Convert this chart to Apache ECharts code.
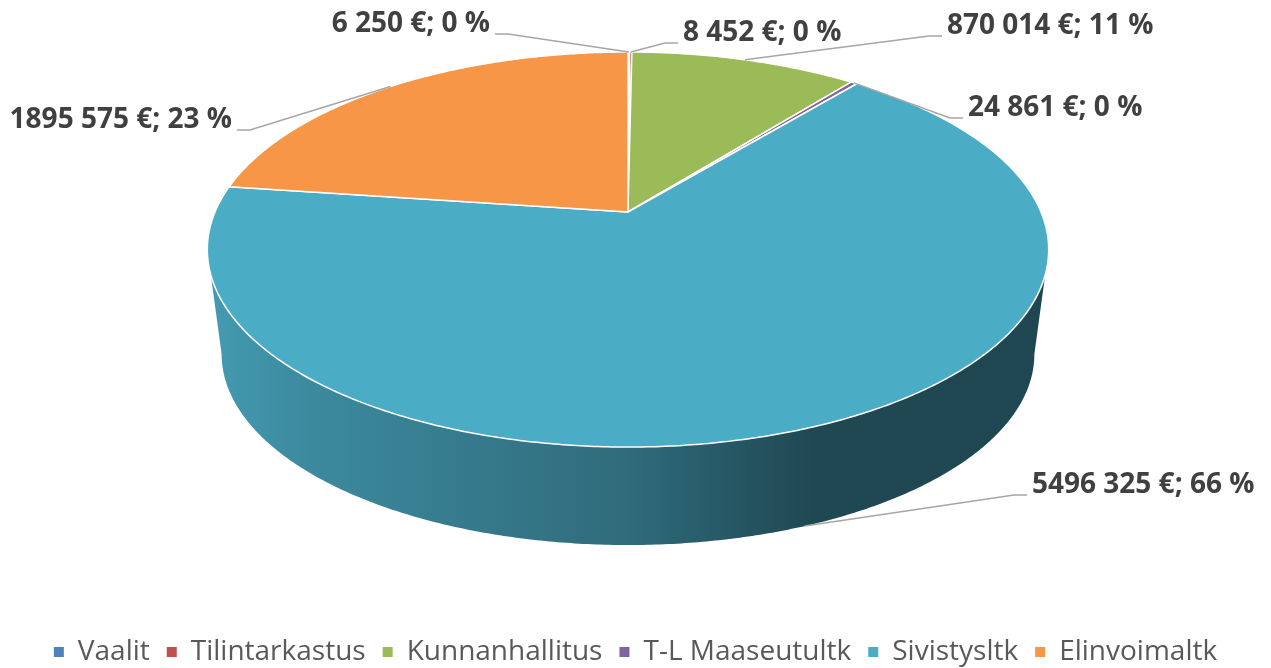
<!DOCTYPE html>
<html>
<head>
<meta charset="utf-8">
<script src="https://cdn.jsdelivr.net/npm/echarts@6/dist/echarts.min.js"></script>
<style>
html, body { margin: 0; padding: 0; background: #fff; }
#main { width: 1271px; height: 668px; }
</style>
</head>
<body>
<div id="main"></div>
<script>
var categories = ['Vaalit', 'Tilintarkastus', 'Kunnanhallitus', 'T-L Maaseutultk', 'Sivistysltk', 'Elinvoimaltk'];
var amounts = [6250, 8452, 870014, 24861, 5496325, 1895575];

var palette = ['#4F81BD', '#C0504D', '#9BBB59', '#8064A2', '#4BACC6', '#F79646'];

// slice angles, clockwise from 12 o'clock
var total = amounts.reduce(function (a, b) { return a + b; }, 0);
var startDeg = [], endDeg = [];
var acc = 0;
amounts.forEach(function (v) {
    startDeg.push(acc / total * 360);
    acc += v;
    endDeg.push(acc / total * 360);
});

// whole percents that add up to 100 (largest remainder, like Excel)
var percents = (function () {
    var raw = amounts.map(function (v) { return v / total * 100; });
    var out = raw.map(Math.floor);
    var left = 100 - out.reduce(function (a, b) { return a + b; }, 0);
    var order = raw.map(function (r, i) { return i; })
        .sort(function (p, q) { return (raw[q] - out[q]) - (raw[p] - out[p]); });
    for (var k = 0; k < left; k++) out[order[k]] += 1;
    return out;
})();

// perspective of the tilted disk
var CX = 628, CY = 212, RX = 413, RY = 190.4, PERSP = 0.19;
var SHRINK = 0.966, VANISH_Y = 3329;
var SIDE_A = Math.acos(-PERSP) * 180 / Math.PI, SIDE_B = 360 - SIDE_A;

function topPt(deg) {
    var r = deg * Math.PI / 180, u = Math.sin(r), v = Math.cos(r), w = 1 + PERSP * v;
    return [CX + RX * u / w, CY - RY * v / w];
}
function bottomPt(deg) {
    var p = topPt(deg);
    return [CX + SHRINK * (p[0] - CX), VANISH_Y + SHRINK * (p[1] - VANISH_Y)];
}
function arc(fn, a, b) {
    var pts = [];
    var n = Math.max(2, Math.ceil(Math.abs(b - a) / 0.5));
    for (var i = 0; i <= n; i++) pts.push(fn(a + (b - a) * i / n));
    return pts;
}
function shade(hex, f) {
    var n = parseInt(hex.slice(1), 16);
    var r = Math.round(((n >> 16) & 255) * f), g = Math.round(((n >> 8) & 255) * f), b = Math.round((n & 255) * f);
    return 'rgb(' + r + ',' + g + ',' + b + ')';
}
function fmt(i) {
    var v = amounts[i];
    var th = Math.floor(v / 1000), rest = String(v % 1000);
    while (rest.length < 3) rest = '0' + rest;
    var num = th > 0 ? th + ' ' + rest : String(v);
    return num + ' \u20ac; ' + percents[i] + ' %';
}

// label placement: text edge x, text middle y, alignment, anchor on bottom rim
var labelSpots = [
    { x: 490, y: 24, align: 'right' },
    { x: 683, y: 33, align: 'left' },
    { x: 947, y: 26, align: 'left' },
    { x: 968, y: 108, align: 'left' },
    { x: 1032, y: 485, align: 'left', low: true },
    { x: 232, y: 120, align: 'right' }
];

function renderSlice(params, api) {
    var i = params.dataIndex;
    var s = startDeg[i], e = endDeg[i];
    var color = palette[i];
    var children = [];

    children.push({
        type: 'polygon',
        z2: 2,
        shape: { points: [[CX, CY]].concat(arc(topPt, s, e)) },
        style: { fill: color, stroke: '#fff', lineWidth: 1.5, lineJoin: 'round' }
    });

    var a = Math.max(s, SIDE_A), b = Math.min(e, SIDE_B);
    if (b > a) {
        var pts = arc(topPt, a, b).concat(arc(bottomPt, b, a));
        children.push({
            type: 'polygon',
            z2: 1,
            shape: { points: pts },
            style: {
                fill: {
                    type: 'linear', x: 0, y: 0, x2: 1, y2: 0,
                    colorStops: [
                        { offset: 0, color: shade(color, 0.9) },
                        { offset: 0.12, color: shade(color, 0.8) },
                        { offset: 0.5, color: shade(color, 0.62) },
                        { offset: 0.72, color: shade(color, 0.42) },
                        { offset: 1, color: shade(color, 0.41) }
                    ]
                }
            }
        });
    }

    var spot = labelSpots[i];
    var mid = (s + e) / 2;
    var anchor = spot.low ? bottomPt(mid) : topPt(mid);
    var dir = spot.align === 'left' ? -1 : 1;
    children.push({
        type: 'polyline',
        z2: 3,
        shape: { points: [anchor, [spot.x + dir * 18, spot.y + 10], [spot.x + dir * 5, spot.y + 10]] },
        style: { stroke: '#a6a6a6', lineWidth: 1.5, fill: null }
    });
    children.push({
        type: 'text',
        z2: 4,
        style: {
            text: fmt(i),
            x: spot.x, y: spot.y,
            align: spot.align, verticalAlign: 'middle',
            fill: '#404040',
            fontSize: 28, fontWeight: 'bold', fontFamily: 'Open Sans'
        }
    });
    return { type: 'group', children: children };
}

var chart = echarts.init(document.getElementById('main'));
var option = {
    animation: false,
    color: palette,
    legend: {
        data: categories,
        top: 633,
        left: 'center',
        icon: 'rect',
        itemWidth: 10,
        itemHeight: 10,
        itemGap: 17,
        textStyle: { fontSize: 28, color: '#595959', fontFamily: 'Open Sans', padding: [0, 0, 0, 9] }
    },
    series: [
        {
            type: 'custom',
            coordinateSystem: 'none',
            silent: true,
            renderItem: renderSlice,
            data: amounts.map(function (v, i) { return { name: categories[i], value: v }; })
        },
        {
            // legend source only
            type: 'pie',
            radius: [0, 0],
            center: [-200, -200],
            silent: true,
            label: { show: false },
            labelLine: { show: false },
            data: amounts.map(function (v, i) { return { name: categories[i], value: v }; })
        }
    ]
};
chart.setOption(option);
</script>
</body>
</html>
